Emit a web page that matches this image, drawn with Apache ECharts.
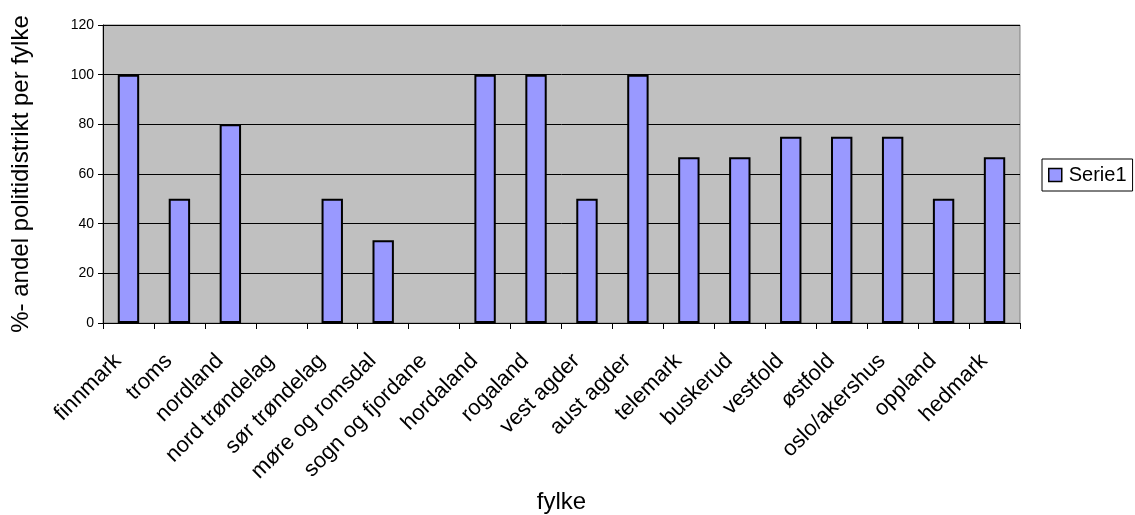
<!DOCTYPE html>
<html>
<head>
<meta charset="utf-8">
<script src="https://cdn.jsdelivr.net/npm/echarts@6/dist/echarts.min.js"></script>
<style>html,body{margin:0;padding:0;background:#fff}#c{width:1135px;height:515px}</style>
</head>
<body>
<div id="c"></div>
<script>
const categories = ["finnmark","troms","nordland","nord trøndelag","sør trøndelag","møre og romsdal","sogn og fjordane","hordaland","rogaland","vest agder","aust agder","telemark","buskerud","vestfold","østfold","oslo/akershus","oppland","hedmark"];
const serie1 = [100,50,80,0,50,33.3,0,100,100,50,100,66.7,66.7,75,75,75,50,66.7];
const yTicks = [0,20,40,60,80,100,120];

const font = "'Liberation Sans', Arial, sans-serif";
const chart = echarts.init(document.getElementById('c'));
chart.setOption({
  animation: false,
  grid: {left: 103, right: 115, top: 25, bottom: 192, show: true, backgroundColor: '#c0c0c0', borderColor: '#808080', borderWidth: 1, containLabel: false, outerBoundsMode: 'none'},
  legend: {
    data: ['Serie1'], left: 1042, top: 159, orient: 'vertical',
    itemWidth: 13, itemHeight: 13, itemGap: 4,
    borderColor: '#000', borderWidth: 1, padding: [6, 6, 6, 6],
    textStyle: {fontFamily: font, fontSize: 20, color: '#000', padding: [0,0,0,2]},
    icon: 'rect', itemStyle: {borderColor: '#000', borderWidth: 1.5}
  },
  xAxis: {
    type: 'category', data: categories,
    name: 'fylke', nameLocation: 'middle', nameGap: 164,
    nameTextStyle: {fontFamily: font, fontSize: 24, color: '#000'},
    axisLine: {lineStyle: {color: '#000', width: 1}},
    axisTick: {show: true, length: 6, lineStyle: {color: '#000'}, alignWithLabel: false},
    axisLabel: {rotate: 45, fontFamily: font, fontSize: 22, color: '#000', margin: 24, interval: 0, padding: [0, 15, 0, 0]},
    splitLine: {show: false}
  },
  yAxis: {
    type: 'value', min: yTicks[0], max: yTicks[yTicks.length-1], interval: 20,
    name: '%- andel politidistrikt per fylke', nameLocation: 'middle', nameGap: 70,
    nameTextStyle: {fontFamily: font, fontSize: 24, color: '#000'},
    axisLine: {show: true, lineStyle: {color: '#000', width: 1}},
    axisTick: {show: true, length: 5, lineStyle: {color: '#000'}},
    axisLabel: {fontFamily: font, fontSize: 14, color: '#000', margin: 9},
    splitLine: {show: true, lineStyle: {color: '#000', width: 1}}
  },
  series: [{
    name: 'Serie1', type: 'bar', data: serie1.map(v => v === 0 ? null : v),
    barCategoryGap: '58%',
    itemStyle: {color: '#9999ff', borderColor: '#000', borderWidth: 2}
  }]
});
</script>
</body>
</html>
